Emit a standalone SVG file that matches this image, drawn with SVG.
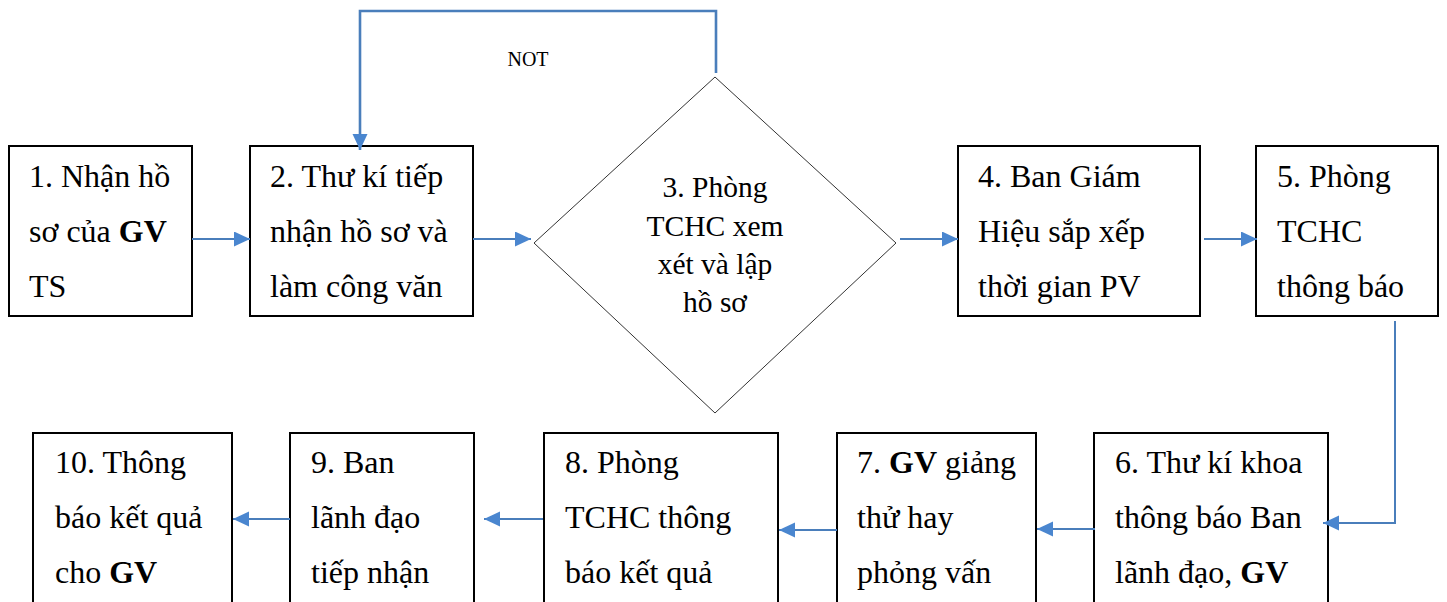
<svg xmlns="http://www.w3.org/2000/svg" width="1447" height="602" viewBox="0 0 1447 602">
  <defs>
    <style>
      .box { fill: #ffffff; stroke: #000000; stroke-width: 2; }
      .decision { fill: #ffffff; stroke: #333333; stroke-width: 1; }
      .lbl, .dlbl, .note { font-family: 'Liberation Serif', 'Times New Roman', serif; fill: #000000; }
      .lbl { font-size: 32px; }
      .dlbl { font-size: 29.5px; text-anchor: middle; }
      .note { font-size: 20px; text-anchor: middle; }
      .b { font-weight: bold; }
      .conn { fill: none; stroke: #4a7ebb; stroke-width: 2; }
      .loop { stroke-width: 2.6; }
    </style>
    <marker id="arrow" markerUnits="userSpaceOnUse" markerWidth="17" markerHeight="16" refX="16" refY="7.5" orient="auto">
      <path d="M0,0 L16,7.5 L0,15 Z" fill="#4a86cf"/>
    </marker>
  </defs>

  <rect width="1447" height="602" fill="#ffffff"/>

  <!-- process steps -->
  <g id="step1">
    <rect class="box" x="9" y="146" width="183" height="170"/>
    <text class="lbl" x="29" y="187">1. Nhận hồ</text>
    <text class="lbl" x="29" y="242">sơ của <tspan class="b">GV</tspan></text>
    <text class="lbl" x="29" y="297">TS</text>
  </g>

  <g id="step2">
    <rect class="box" x="250" y="146" width="223" height="170"/>
    <text class="lbl" x="270" y="187">2. Thư kí tiếp</text>
    <text class="lbl" x="270" y="242">nhận hồ sơ và</text>
    <text class="lbl" x="270" y="297">làm công văn</text>
  </g>

  <g id="step3">
    <polygon class="decision" points="715,77 896,243 715,413 534,243"/>
    <text class="dlbl" x="715" y="197">3. Phòng</text>
    <text class="dlbl" x="715" y="236">TCHC xem</text>
    <text class="dlbl" x="715" y="274">xét và lập</text>
    <text class="dlbl" x="715" y="312">hồ sơ</text>
  </g>

  <g id="step4">
    <rect class="box" x="958" y="146" width="242" height="170"/>
    <text class="lbl" x="978" y="187">4. Ban Giám</text>
    <text class="lbl" x="978" y="242">Hiệu sắp xếp</text>
    <text class="lbl" x="978" y="297">thời gian PV</text>
  </g>

  <g id="step5">
    <rect class="box" x="1256" y="146" width="182" height="170"/>
    <text class="lbl" x="1277" y="187">5. Phòng</text>
    <text class="lbl" x="1277" y="242">TCHC</text>
    <text class="lbl" x="1277" y="297">thông báo</text>
  </g>

  <g id="step6">
    <rect class="box" x="1094" y="433" width="234" height="190"/>
    <text class="lbl" x="1115" y="473">6. Thư kí khoa</text>
    <text class="lbl" x="1115" y="528">thông báo Ban</text>
    <text class="lbl" x="1115" y="583">lãnh đạo, <tspan class="b">GV</tspan></text>
  </g>

  <g id="step7">
    <rect class="box" x="837" y="433" width="199" height="190"/>
    <text class="lbl" x="857" y="473">7. <tspan class="b">GV</tspan> giảng</text>
    <text class="lbl" x="857" y="528">thử hay</text>
    <text class="lbl" x="857" y="583">phỏng vấn</text>
  </g>

  <g id="step8">
    <rect class="box" x="544" y="433" width="234" height="190"/>
    <text class="lbl" x="565" y="473">8. Phòng</text>
    <text class="lbl" x="565" y="528">TCHC thông</text>
    <text class="lbl" x="565" y="583">báo kết quả</text>
  </g>

  <g id="step9">
    <rect class="box" x="290" y="433" width="184" height="190"/>
    <text class="lbl" x="311" y="473">9. Ban</text>
    <text class="lbl" x="311" y="528">lãnh đạo</text>
    <text class="lbl" x="311" y="583">tiếp nhận</text>
  </g>

  <g id="step10">
    <rect class="box" x="33" y="433" width="199" height="190"/>
    <text class="lbl" x="55" y="473">10. Thông</text>
    <text class="lbl" x="55" y="528">báo kết quả</text>
    <text class="lbl" x="55" y="583">cho <tspan class="b">GV</tspan></text>
  </g>

  <!-- connectors -->
  <g id="connectors">
    <path class="conn" d="M192,239 H250" marker-end="url(#arrow)"/>
    <path class="conn" d="M473,239 H531" marker-end="url(#arrow)"/>
    <path class="conn loop" d="M716,73 V11 H360 V150" marker-end="url(#arrow)"/>
    <path class="conn" d="M900,239 H958" marker-end="url(#arrow)"/>
    <path class="conn" d="M1204,239 H1257" marker-end="url(#arrow)"/>
    <path class="conn" d="M1395,321 V523 H1323" marker-end="url(#arrow)"/>
    <path class="conn" d="M1095,529 H1037" marker-end="url(#arrow)"/>
    <path class="conn" d="M837,530 H779" marker-end="url(#arrow)"/>
    <path class="conn" d="M543,519 H484" marker-end="url(#arrow)"/>
    <path class="conn" d="M290,519 H233" marker-end="url(#arrow)"/>
    <text class="note" x="528" y="66">NOT</text>
  </g>
</svg>
